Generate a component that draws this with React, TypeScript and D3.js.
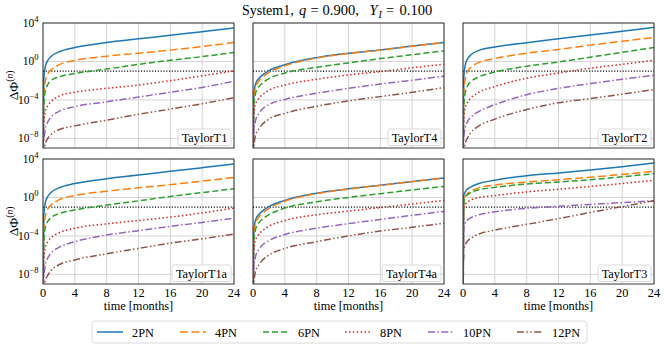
import React from 'react';
import * as d3 from 'd3';

const months = [0, 0.1, 0.3, 0.6, 1, 2, 4, 8, 12, 16, 20, 24];
const orders = ['2PN', '4PN', '6PN', '8PN', '10PN', '12PN'];
const colors = ['#1f77b4', '#ff7f0e', '#2ca02c', '#d62728', '#9467bd', '#8c564b'];
const dashes = ['', '8,3.5', '6,3', '1.5,2.4', '7,2.4,1.5,2.4', '7,2.4,1.5,2.4,1.5,2.4'];
const xTicks = [0, 4, 8, 12, 16, 20, 24];
const yTickExps = [4, 0, -4, -8];
const threshold = 0.1;

// TaylorT1
const t1_2 = [1e-12, 1.6e-2, 3.2e-1, 1.26, 3.2, 10, 28, 95, 224, 525, 1260, 3020];
const t1_4 = [1e-12, 2.5e-4, 1e-2, 5e-2, 1.26e-1, 4.5e-1, 1.26, 3.55, 7.1, 15.1, 35.5, 95];
const t1_6 = [1e-12, 3.2e-5, 1e-3, 4e-3, 1e-2, 2.5e-2, 5.6e-2, 1.6e-1, 5e-1, 1.32, 3.2, 8.7];
const t1_8 = [1e-12, 3.2e-7, 6.3e-6, 2.5e-5, 6.3e-5, 2.5e-4, 6.3e-4, 1.6e-3, 3.5e-3, 1e-2, 3.2e-2, 1.05e-1];
const t1_10 = [1e-12, 3.2e-9, 1e-7, 5e-7, 1.6e-6, 6.3e-6, 2e-5, 6.3e-5, 2e-4, 6.3e-4, 2e-3, 8.9e-3];
const t1_12 = [1e-12, 1e-10, 2.5e-9, 1e-8, 2.5e-8, 7.9e-8, 2e-7, 7.9e-7, 3.2e-6, 1.12e-5, 4e-5, 1.74e-4];

// TaylorT4
const t4_2 = [1e-12, 4e-4, 4e-3, 1.26e-2, 2.8e-2, 1.12e-1, 4.5e-1, 2.5, 7.1, 15.8, 40, 95];
const t4_4 = [1e-12, 1.6e-4, 1.6e-3, 6.3e-3, 1.6e-2, 7.1e-2, 3.5e-1, 2.24, 6.6, 15.1, 38, 95];
const t4_6 = [1e-12, 3.2e-5, 4e-4, 1.6e-3, 4e-3, 1.6e-2, 6.3e-2, 2.5e-1, 7.1e-1, 2.0, 5.0, 12.9];
const t4_8 = [1e-12, 3.2e-6, 3.2e-5, 1e-4, 2.5e-4, 1e-3, 3.5e-3, 1.4e-2, 4e-2, 8.9e-2, 2.2e-1, 5.2e-1];
const t4_10 = [1e-12, 3.2e-8, 6.3e-7, 2.5e-6, 7.9e-6, 3.2e-5, 1.12e-4, 5e-4, 1.6e-3, 4.5e-3, 1.12e-2, 2.95e-2];
const t4_12 = [1e-12, 1e-9, 1.6e-8, 6.3e-8, 2e-7, 1e-6, 4e-6, 2.2e-5, 7.9e-5, 2.2e-4, 6.3e-4, 1.9e-3];

// TaylorT2
const t2_2 = [1e-12, 2.5e-2, 5e-1, 2.0, 5.0, 14.1, 31.6, 89, 224, 562, 1410, 3550];
const t2_4 = [1e-12, 6.3e-4, 1.6e-2, 1e-1, 2.5e-1, 7.9e-1, 2.0, 7.1, 17.8, 50, 126, 316];
const t2_6 = [1e-12, 3.2e-5, 6.3e-4, 3.2e-3, 7.9e-3, 2.5e-2, 7.9e-2, 3.2e-1, 8.9e-1, 2.8, 8.9, 28.8];
const t2_8 = [1e-12, 1e-6, 1.6e-5, 6.3e-5, 1.6e-4, 6.3e-4, 2.5e-3, 1.8e-2, 6.3e-2, 2e-1, 5e-1, 1.38];
const t2_10 = [1e-12, 1e-8, 1.6e-7, 6.3e-7, 1.6e-6, 6.3e-6, 3.2e-5, 3.5e-4, 1.6e-3, 5e-3, 1.4e-2, 3.7e-2];
const t2_12 = [1e-12, 1e-10, 3.2e-9, 1.26e-8, 4e-8, 2e-7, 1e-6, 1e-5, 5e-5, 1.4e-4, 4e-4, 1.2e-3];

// TaylorT1a
const t1a_2 = [1e-12, 1.6e-2, 3.2e-1, 1.26, 3.2, 10, 28, 89, 214, 525, 1260, 3020];
const t1a_4 = [1e-12, 4e-4, 1.26e-2, 6.3e-2, 1.6e-1, 5.6e-1, 1.58, 4.5, 10, 21.4, 50, 123];
const t1a_6 = [1e-12, 2.5e-5, 7.9e-4, 3.2e-3, 7.9e-3, 2e-2, 5e-2, 1.6e-1, 4.5e-1, 1.29, 3.2, 8.1];
const t1a_8 = [1e-12, 3.2e-7, 6.3e-6, 2.5e-5, 6.3e-5, 2e-4, 6.3e-4, 1.8e-3, 4e-3, 9.1e-3, 2.5e-2, 7.9e-2];
const t1a_10 = [1e-12, 3.2e-9, 1e-7, 5e-7, 1.6e-6, 6.3e-6, 2.5e-5, 1.26e-4, 3.5e-4, 1e-3, 2.5e-3, 7.1e-3];
const t1a_12 = [1e-12, 1e-10, 2.5e-9, 7.9e-9, 2.5e-8, 1e-7, 3.2e-7, 1.4e-6, 5e-6, 1.8e-5, 5e-5, 1.55e-4];

// TaylorT4a
const t4a_2 = [1e-12, 4e-4, 4e-3, 1.26e-2, 2.8e-2, 1.12e-1, 5e-1, 2.8, 7.9, 19, 45, 105];
const t4a_4 = [1e-12, 1.6e-4, 1.6e-3, 6.3e-3, 1.6e-2, 7.1e-2, 4e-1, 2.5, 7.4, 18.6, 44, 105];
const t4a_6 = [1e-12, 3.2e-5, 4e-4, 1.6e-3, 4e-3, 1.6e-2, 7.9e-2, 3.5e-1, 1.0, 2.5, 6.0, 14.1];
const t4a_8 = [1e-12, 3.2e-6, 3.2e-5, 1e-4, 2.5e-4, 1e-3, 4e-3, 1.6e-2, 3.8e-2, 8.9e-2, 2.1e-1, 4.9e-1];
const t4a_10 = [1e-12, 3.2e-8, 6.3e-7, 2.5e-6, 7.9e-6, 3.2e-5, 1.4e-4, 6.3e-4, 1.9e-3, 5.2e-3, 1.4e-2, 3.5e-2];
const t4a_12 = [1e-12, 1e-9, 1.6e-8, 6.3e-8, 2e-7, 1e-6, 5e-6, 2.5e-5, 1e-4, 3.2e-4, 7.9e-4, 2.1e-3];

// TaylorT3
const t3_2 = [1e-12, 1.58, 4.0, 7.9, 12.6, 28, 63, 178, 355, 708, 1580, 3800];
const t3_4 = [1e-12, 5e-1, 1.41, 2.8, 4.5, 10, 20, 40, 71, 126, 251, 525];
const t3_6 = [1e-12, 3.2e-1, 1.0, 2.0, 3.2, 6.3, 11.2, 25, 40, 71, 141, 295];
const t3_8 = [1e-12, 1e-1, 2e-1, 3.5e-1, 5.6e-1, 1.0, 1.58, 3.8, 7.1, 14.1, 28, 60];
const t3_10 = [1e-12, 6.3e-4, 2.5e-3, 5e-3, 7.9e-3, 1.6e-2, 3.2e-2, 7.5e-2, 1.2e-1, 1.9e-1, 2.9e-1, 4.6e-1];
const t3_12 = [1e-12, 3.2e-6, 1.26e-5, 3.2e-5, 5.6e-5, 1.6e-4, 4e-4, 1.6e-3, 6.3e-3, 2.8e-2, 1.12e-1, 4.6e-1];

const panels = [
  { name: 'TaylorT1', series: [t1_2, t1_4, t1_6, t1_8, t1_10, t1_12] },
  { name: 'TaylorT4', series: [t4_2, t4_4, t4_6, t4_8, t4_10, t4_12] },
  { name: 'TaylorT2', series: [t2_2, t2_4, t2_6, t2_8, t2_10, t2_12] },
  { name: 'TaylorT1a', series: [t1a_2, t1a_4, t1a_6, t1a_8, t1a_10, t1a_12] },
  { name: 'TaylorT4a', series: [t4a_2, t4a_4, t4a_6, t4a_8, t4a_10, t4a_12] },
  { name: 'TaylorT3', series: [t3_2, t3_4, t3_6, t3_8, t3_10, t3_12] },
];

const W = 664;
const H = 345;
const colX = [43, 253, 463];
const rowY = [23, 159];
const pw = 191;
const ph = 125;
const FONT = '"Liberation Serif", "DejaVu Serif", serif';
const FS = 12.3;

const x = d3.scaleLinear().domain([0, 24]).range([0, pw]);
const y = d3.scaleLog().domain([1e-9, 1e4]).range([ph, 0]);
const line = d3.line<number>()
  .x((d, i) => x(months[i]))
  .y(d => y(d))
  .curve(d3.curveMonotoneX);

const supMinus = (e: number) => (e < 0 ? '\u2212' + Math.abs(e) : String(e));

function Panel({ idx }: { idx: number }) {
  const p = panels[idx];
  const col = idx % 3;
  const row = Math.floor(idx / 3);
  const px = colX[col];
  const py = rowY[row];
  const labW = p.name.length > 8 ? 59 : 53;
  return (
    <g transform={`translate(${px},${py})`}>
      <defs>
        <clipPath id={`clip${idx}`}>
          <rect x={0} y={0} width={pw} height={ph} />
        </clipPath>
      </defs>
      <rect x={0} y={0} width={pw} height={ph} fill="#fff" />
      {xTicks.map(t => (
        <line key={'gx' + t} x1={x(t)} x2={x(t)} y1={0} y2={ph} stroke="#d0d0d0" strokeWidth={0.9} />
      ))}
      {yTickExps.map(e => (
        <line key={'gy' + e} x1={0} x2={pw} y1={y(Math.pow(10, e))} y2={y(Math.pow(10, e))} stroke="#d0d0d0" strokeWidth={0.9} />
      ))}
      <g clipPath={`url(#clip${idx})`}>
        <line x1={0} x2={pw} y1={y(threshold)} y2={y(threshold)} stroke="#000" strokeWidth={1.1} strokeDasharray="1.1,1.7" />
        {p.series.map((s, k) => (
          <path key={k} d={line(s) || ''} fill="none" stroke={colors[k]} strokeWidth={1.5}
            strokeDasharray={dashes[k] || undefined} />
        ))}
      </g>
      <rect x={0} y={0} width={pw} height={ph} fill="none" stroke="#262626" strokeWidth={0.9} />
      {/* panel label box */}
      <rect x={pw - 3 - labW} y={ph - 19} width={labW} height={16.5} rx={2} fill="#fff" fillOpacity={0.85}
        stroke="#d0d0d0" strokeWidth={0.8} />
      <text x={pw - 3 - labW / 2} y={ph - 6.5} textAnchor="middle" fontFamily={FONT} fontSize={FS}>{p.name}</text>
      {col === 0 && yTickExps.map(e => (
        <text key={'yl' + e} x={-4.5} y={y(Math.pow(10, e)) + 4} textAnchor="end" fontFamily={FONT} fontSize={11.5}>
          10<tspan dy={-5} fontSize={8.5}>{supMinus(e)}</tspan>
        </text>
      ))}
      {row === 1 && xTicks.map(t => (
        <text key={'xl' + t} x={x(t)} y={ph + 12.5} textAnchor="middle" fontFamily={FONT} fontSize={FS}>{t}</text>
      ))}
      {row === 1 && (
        <text x={pw / 2} y={ph + 26} textAnchor="middle" fontFamily={FONT} fontSize={FS}>time [months]</text>
      )}
      {col === 0 && (
        <text transform={`translate(-25,${ph / 2}) rotate(-90)`} textAnchor="middle" fontFamily={FONT} fontSize={13.5}>
          ΔΦ<tspan dy={-5.5} fontSize={9.5}>(</tspan><tspan fontSize={9.5} fontStyle="italic">n</tspan><tspan fontSize={9.5}>)</tspan>
        </text>
      )}
    </g>
  );
}

const legendX = [97, 180, 263, 345, 428, 517];

export default function App() {
  return (
    <svg width={W} height={H} style={{ position: 'absolute', left: 0, top: 0, background: '#fff' }}>
      <rect width={W} height={H} fill="#fff" />
      <text y={15} fontFamily={FONT} fontSize={14.5}>
        <tspan x={242} fontSize={14}>System1,</tspan>
        <tspan x={299} fontStyle="italic">q</tspan>
        <tspan x={310.5}>=</tspan>
        <tspan x={322.5}>0.900,</tspan>
        <tspan x={369.5} fontStyle="italic">Y</tspan>
        <tspan x={378.5} dy={3} fontSize={10} fontStyle="italic">I</tspan>
        <tspan x={386} dy={-3}>=</tspan>
        <tspan x={399.5}>0.100</tspan>
      </text>
      {panels.map((_, i) => <Panel key={i} idx={i} />)}
      <rect x={92} y={321} width={495} height={22} rx={3} fill="#fff" stroke="#d0d0d0" strokeWidth={0.8} />
      {orders.map((o, k) => (
        <g key={o}>
          <line x1={legendX[k]} x2={legendX[k] + 26} y1={332} y2={332} stroke={colors[k]} strokeWidth={1.5}
            strokeDasharray={dashes[k] || undefined} />
          <text x={legendX[k] + 35} y={336.5} fontFamily={FONT} fontSize={FS}>{o}</text>
        </g>
      ))}
    </svg>
  );
}
